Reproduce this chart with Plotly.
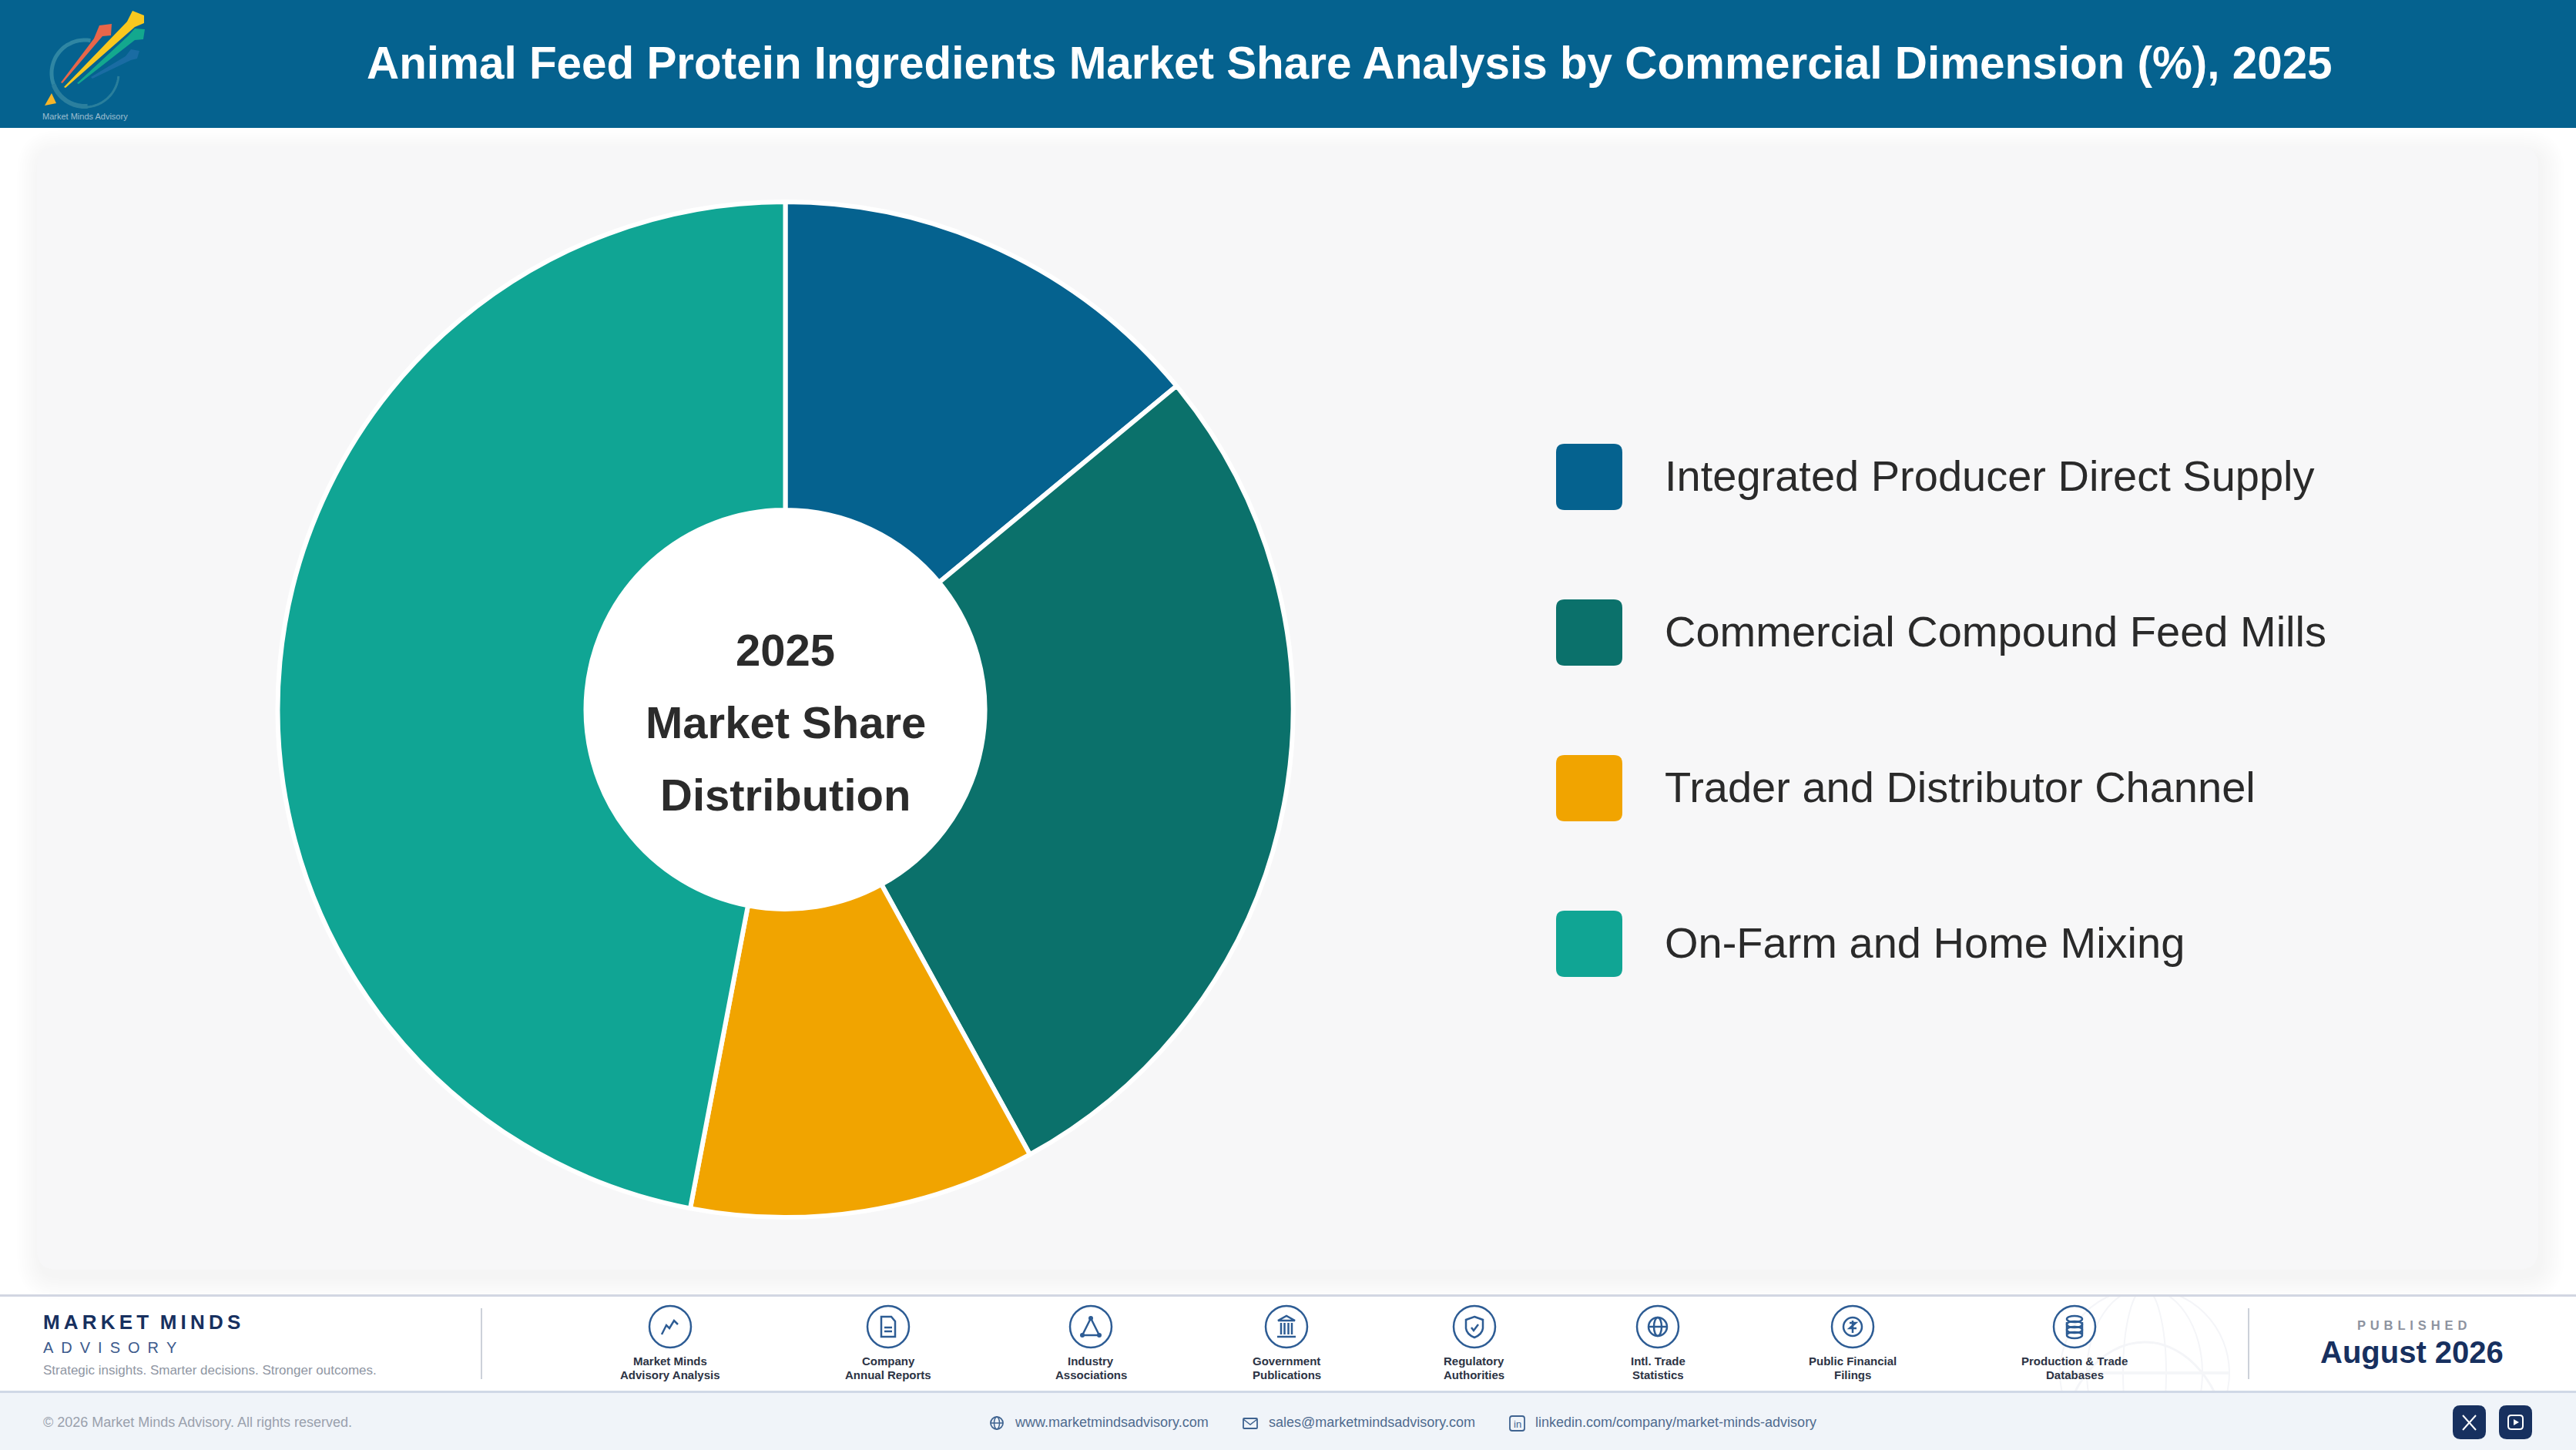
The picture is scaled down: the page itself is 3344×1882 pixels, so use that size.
import math
import re
import plotly.graph_objects as go

W = 3344
H = 1882

# data
segments = ["Integrated Producer Direct Supply", "Commercial Compound Feed Mills",
            "Trader and Distributor Channel", "On-Farm and Home Mixing"]
shares = [14, 28, 11, 47]
colors = ["#05628f", "#0b716b", "#f1a400", "#10a594"]

title = "Animal Feed Protein Ingredients Market Share Analysis by Commercial Dimension (%), 2025"
centre_lines = ["2025", "Market Share", "Distribution"]
source_labels = [["Market Minds", "Advisory Analysis"], ["Company", "Annual Reports"],
                 ["Industry", "Associations"], ["Government", "Publications"],
                 ["Regulatory", "Authorities"], ["Intl. Trade", "Statistics"],
                 ["Public Financial", "Filings"], ["Production & Trade", "Databases"]]
source_x = [870, 1153, 1416, 1670, 1914, 2152, 2405, 2693]

NAVY = "#17305f"
ICON = "#2d5c94"
FONT = "Liberation Sans"


def X(v):
    return v / W


def Y(v):
    return 1 - v / H


def path(s):
    # pixel path -> paper path
    toks = re.findall(r"[A-Za-z]|-?\d+\.?\d*", s)
    out = []
    is_x = True
    for t in toks:
        if t.isalpha():
            out.append(t)
            is_x = True
        else:
            out.append(f"{X(float(t)):.6f}" if is_x else f"{Y(float(t)):.6f}")
            is_x = not is_x
    return " ".join(out)


def rr(x0, y0, x1, y1, r):
    return (f"M {x0+r} {y0} L {x1-r} {y0} Q {x1} {y0} {x1} {y0+r} L {x1} {y1-r} Q {x1} {y1} {x1-r} {y1} "
            f"L {x0+r} {y1} Q {x0} {y1} {x0} {y1-r} L {x0} {y0+r} Q {x0} {y0} {x0+r} {y0} Z")


shapes = []
annots = []


def add_rect(x0, y0, x1, y1, color):
    shapes.append(dict(type="rect", xref="paper", yref="paper", x0=X(x0), x1=X(x1), y0=Y(y0), y1=Y(y1),
                       fillcolor=color, line_width=0, layer="below"))


def add_path(s, fill=None, line=None, width=2.5, opacity=1):
    shapes.append(dict(type="path", xref="paper", yref="paper", path=path(s), fillcolor=fill or "rgba(0,0,0,0)",
                       line=dict(color=line or "rgba(0,0,0,0)", width=width if line else 0),
                       opacity=opacity, layer="below"))


def add_circle(cx, cy, rx, ry=None, fill=None, line=None, width=2.5):
    ry = ry if ry is not None else rx
    shapes.append(dict(type="circle", xref="paper", yref="paper", x0=X(cx-rx), x1=X(cx+rx), y0=Y(cy+ry), y1=Y(cy-ry),
                       fillcolor=fill or "rgba(0,0,0,0)",
                       line=dict(color=line or "rgba(0,0,0,0)", width=width if line else 0), layer="below"))


def add_text(x, y, text, size, color, bold=False, anchor="left"):
    annots.append(dict(xref="paper", yref="paper", x=X(x), y=Y(y), text=text, showarrow=False, xanchor=anchor,
                       yanchor="middle", borderpad=0,
                       font=dict(family=FONT, size=size, color=color, weight=700 if bold else 400)))


def arc(cx, cy, r, a0, a1, n=40):
    pts = []
    for i in range(n + 1):
        a = math.radians(a0 + (a1 - a0) * i / n)
        pts.append(f"{'M' if i == 0 else 'L'} {cx + r * math.cos(a):.1f} {cy + r * math.sin(a):.1f}")
    return " ".join(pts)


# footer watermark first, later bands cover what sticks out
for rx in [110, 75, 28]:
    add_circle(2784, 1782, rx, 110, line="#f4f5f8", width=2)
add_circle(2784, 1782 + 110, 110, 150, line="#f4f5f8", width=3)
add_rect(2674, 1780, 2894, 1784, "#f5f6f8")

# header
add_rect(0, 0, W, 166, colors[0])
add_rect(0, 166, W, 1680, "#ffffff")

# card with soft shadow, pushed down and right so the top left edge melts away
for i in range(10, 0, -1):
    d = i * 3
    add_path(rr(48 - d + 4, 190 - d + 9, 3295 + d + 4, 1648 + d + 9, 24 + d), fill="rgba(40,40,50,0.004)")
add_path(rr(48, 190, 3295, 1648, 26), fill="#f7f7f8")

# footer bands
add_rect(0, 1680, W, 1683, "#d2d6e2")
add_rect(0, 1806, W, H, "#f0f4f9")
add_rect(0, 1805, W, 1808, "#d0d8e6")
add_rect(624, 1698, 626, 1790, "#ccd1d9")
add_rect(2918, 1698, 2920, 1790, "#ccd1d9")

# logo
add_path(arc(110, 95, 43, -80, -200), line="#2f86a3", width=5)
add_path(arc(110, 95, 43, -200, -275), line="#2b7f9e", width=6)
add_path(arc(110, 95, 44, 95, 5), line="#2a7f9c", width=3)
add_path("M 58 137 L 73 134 L 67 121 Z", fill="#f7b529")
add_path("M 79 107 L 122 50 L 129 33 L 145 31 L 144 46 L 133 47 L 81 108 Z", fill="#e8664a")
add_path("M 83 113 L 165 28 L 172 14 L 187 20 L 187 30 L 175 35 L 85 114 Z", fill="#f9c81e")
add_path("M 100 108 L 167 46 L 175 37 L 188 38 L 186 51 L 175 52 L 102 109 Z", fill="#13a88e")
add_path("M 118 100 L 163 73 L 170 64 L 181 66 L 178 76 L 170 78 L 120 102 Z", fill="#1a6ca3")
add_text(110, 151, "Market Minds Advisory", 11, "#9fbfd0", anchor="center")

# centre of the donut
add_circle(1019.5, 921, 263, fill="#ffffff")
for y, line in zip([844, 937, 1031], centre_lines):
    add_text(1019.5, y, line, 58, "#2b2b2b", bold=True, anchor="center")

# legend
for i, (name, col) in enumerate(zip(segments, colors)):
    yc = 619 + i * 202
    add_path(rr(2020, yc - 43, 2106, yc + 43, 11), fill=col)
    add_text(2160, yc - 2, name, 56, "#2a2a2a")

add_text(1752, 81, title, 58.4, "#ffffff", bold=True, anchor="center")

# footer brand
add_text(55, 1716, "M\u2009A\u2009R\u2009K\u2009E\u2009T  M\u2009I\u2009N\u2009D\u2009S", 26, NAVY, bold=True)
add_text(55, 1749, "A\u2002D\u2002V\u2002I\u2002S\u2002O\u2002R\u2002Y", 20, "#3c5a8c")
add_text(55, 1778, "Strategic insights. Smarter decisions. Stronger outcomes.", 17, "#8f96a3")
add_text(3131, 1720, "P \u200aU \u200aB \u200aL \u200aI \u200aS \u200aH \u200aE \u200aD", 16.5, "#8d93a0", bold=True, anchor="center")
add_text(3131, 1755, "August 2026", 40, NAVY, bold=True, anchor="center")

# source icons
ICON_Y = 1722


def icon(cx, parts):
    for part in parts:
        toks = re.findall(r"[A-Za-z]|-?\d+\.?\d*", part)
        out = []
        is_x = True
        for t in toks:
            if t.isalpha():
                out.append(t)
                is_x = True
            else:
                out.append(str(float(t) + (cx if is_x else ICON_Y)))
                is_x = not is_x
        add_path(" ".join(out), line=ICON, width=2.5)


icon_parts = [
    ["M -11 10 L -5 -2 L -1 2 L 5 -8 L 10 -3"],
    ["M -9 -13 L 4 -13 L 9 -7 L 9 13 L -9 13 Z", "M -5 1 L 5 1", "M -5 6 L 5 6"],
    ["M 0 -11 L -11 11 L 11 11 Z"],
    ["M -11 -8 L 0 -14 L 11 -8 Z", "M -7 -5 L -7 10", "M -2.5 -5 L -2.5 10", "M 2.5 -5 L 2.5 10", "M 7 -5 L 7 10",
     "M -12 13 L 12 13"],
    ["M 0 -13 L 11 -9 L 11 2 Q 10 10 0 14 Q -10 10 -11 2 L -11 -9 Z", "M -4 1 L -1 5 L 5 -3"],
    ["M -12 0 L 12 0"],
    ["M -4 -5 L 4 -5 L -4 2 L 5 2", "M 0 -8 L 0 8"],
    ["M -10 -6 L -10 10", "M 10 -6 L 10 10"],
]
for k, (cx, lines) in enumerate(zip(source_x, source_labels)):
    add_circle(cx, ICON_Y, 27, line=ICON, width=2.5)
    icon(cx, icon_parts[k])
    add_text(cx, 1766, lines[0], 15, "#2c3344", bold=True, anchor="center")
    add_text(cx, 1784, lines[1], 15, "#2c3344", bold=True, anchor="center")
    if k == 2:
        add_circle(cx, ICON_Y - 11, 3, fill=ICON)
        add_circle(cx - 11, ICON_Y + 11, 3, fill=ICON)
        add_circle(cx + 11, ICON_Y + 11, 3, fill=ICON)
    if k == 5:
        add_circle(cx, ICON_Y, 12, line=ICON)
        add_circle(cx, ICON_Y, 5, 12, line=ICON)
    if k == 6:
        add_circle(cx, ICON_Y, 12, line=ICON)
    if k == 7:
        for dy in [-10, -3, 4, 11]:
            add_circle(cx, ICON_Y + dy, 10, 4, line=ICON)

# bottom strip
add_text(55, 1846, "© 2026 Market Minds Advisory. All rights reserved.", 18, "#9aa1ad")
add_circle(1294, 1847, 8, line="#3f6390", width=1.8)
add_circle(1294, 1847, 3.5, 8, line="#3f6390", width=1.5)
add_path("M 1286 1847 L 1302 1847", line="#3f6390", width=1.5)
add_text(1316, 1846, "www.marketmindsadvisory.com", 18, "#4f6b8f")
add_path(rr(1614, 1841, 1632, 1854, 1), line="#3f6390", width=1.8)
add_path("M 1614 1842 L 1623 1849 L 1632 1842", line="#3f6390", width=1.5)
add_text(1646, 1846, "sales@marketmindsadvisory.com", 18, "#4f6b8f")
add_path(rr(1960, 1838, 1979, 1857, 3), line="#3f6390", width=1.8)
add_text(1969.5, 1848, "in", 13, "#3f6390", anchor="center")
add_text(1992, 1846, "linkedin.com/company/market-minds-advisory", 18, "#4f6b8f")

add_path(rr(3184, 1824, 3227, 1868, 10), fill=NAVY)
add_path("M 3197 1837 L 3214 1856", line="#ffffff", width=2)
add_path("M 3214 1837 L 3197 1856", line="#ffffff", width=2)
add_path(rr(3244, 1824, 3287, 1868, 10), fill=NAVY)
add_path(rr(3256, 1837, 3275, 1855, 4), line="#ffffff", width=2)
add_path("M 3263 1842 L 3263 1850 L 3270 1846 Z", fill="#ffffff")

R = 659
fig = go.Figure(go.Pie(
    labels=segments,
    values=shares,
    hole=0.393,
    sort=False,
    direction="clockwise",
    rotation=0,
    textinfo="none",
    marker=dict(colors=colors, line=dict(color="#ffffff", width=6)),
    domain=dict(x=[X(1019.5 - R), X(1019.5 + R)], y=[Y(921 + R), Y(921 - R)]),
    showlegend=False,
))

fig.update_layout(
    width=W,
    height=H,
    margin=dict(l=0, r=0, t=0, b=0),
    paper_bgcolor="#ffffff",
    plot_bgcolor="#ffffff",
    shapes=shapes,
    annotations=annots,
)

fig.write_html("out.html", config=dict(displayModeBar=False), post_script="document.body.style.margin='0';")
